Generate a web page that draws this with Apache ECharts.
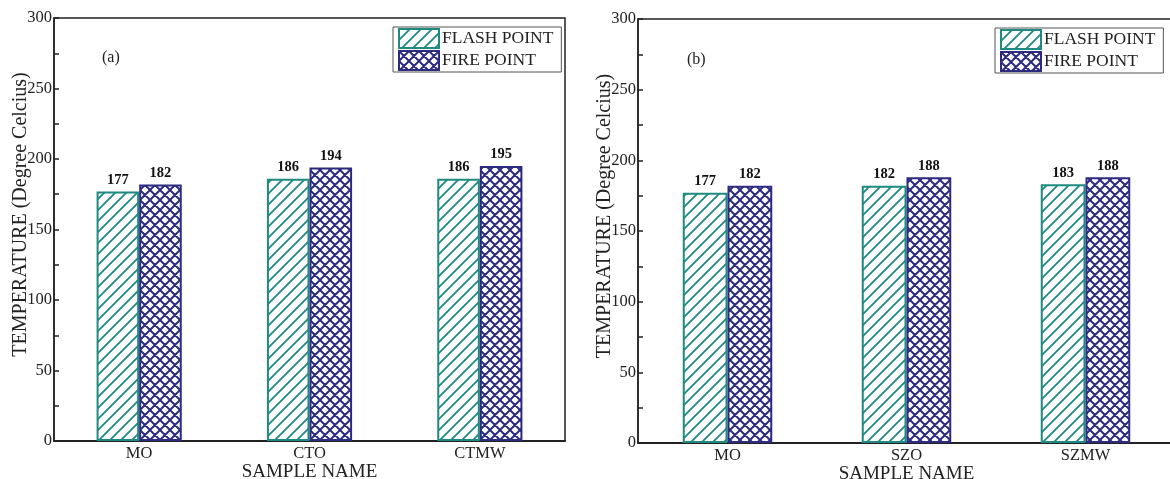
<!DOCTYPE html>
<html><head><meta charset="utf-8">
<script src="https://cdn.jsdelivr.net/npm/echarts@6/dist/echarts.min.js"></script>
<style>html,body{margin:0;padding:0;background:#fff}#c{width:1170px;height:479px}</style>
</head><body><div id="c"></div>
<script>
const categoriesA = ['MO', 'CTO', 'CTMW'];
const categoriesB = ['MO', 'SZO', 'SZMW'];
const flashA = [177, 186, 186];
const fireA = [182, 194, 195];
const flashB = [177, 182, 183];
const fireB = [182, 188, 188];
const seriesNames = ['FLASH POINT', 'FIRE POINT'];
const yTicks = { min: 0, max: 300, interval: 50 };

const TEAL = '#1e8a80', NAVY = '#2c2b80';
const FONT = '"Liberation Serif", "Times New Roman", serif';

function hatch(color) {
  const s = 11, c = document.createElement('canvas');
  c.width = s; c.height = s;
  const g = c.getContext('2d');
  g.fillStyle = '#fff'; g.fillRect(0, 0, s, s);
  g.strokeStyle = color; g.lineWidth = 1.8;
  g.beginPath();
  for (let k = -1; k <= 1; k++) {
    g.moveTo(k * s - 1, s + 1); g.lineTo(k * s + s + 1, -1);
  }
  g.stroke();
  return { image: c, repeat: 'repeat' };
}
function cross(color) {
  const s = 10, c = document.createElement('canvas');
  c.width = s; c.height = s;
  const g = c.getContext('2d');
  g.fillStyle = '#fff'; g.fillRect(0, 0, s, s);
  g.strokeStyle = color; g.lineWidth = 2;
  g.beginPath();
  for (let k = -1; k <= 1; k++) {
    g.moveTo(k * s - 1, s + 1); g.lineTo(k * s + s + 1, -1);
    g.moveTo(k * s - 1, -1); g.lineTo(k * s + s + 1, s + 1);
  }
  g.stroke();
  return { image: c, repeat: 'repeat' };
}
const flashFill = hatch(TEAL), fireFill = cross(NAVY);

const chart = echarts.init(document.getElementById('c'), null, { renderer: 'canvas' });

function xAxis(idx, cats) {
  return {
    type: 'category', gridIndex: idx, data: cats,
    name: 'SAMPLE NAME', nameLocation: 'middle', nameGap: 22, nameMoveOverlap: false,
    nameTextStyle: { fontFamily: FONT, fontSize: 19, color: '#222' },
    axisLine: { lineStyle: { color: '#222', width: 2 } },
    axisTick: { show: false },
    axisLabel: { fontFamily: FONT, fontSize: 16.5, color: '#222', margin: 4 },
    splitLine: { show: false }
  };
}
function yAxis(idx) {
  return {
    type: 'value', gridIndex: idx, min: yTicks.min, max: yTicks.max, interval: yTicks.interval,
    name: 'TEMPERATURE (Degree Celcius)', nameLocation: 'middle', nameGap: 23, nameMoveOverlap: false,
    nameTextStyle: { fontFamily: FONT, fontSize: 20, color: '#222', padding: [0, 0, 0, 30] },
    axisLine: { show: true, lineStyle: { color: '#222', width: 1.5 } },
    axisTick: { show: true, inside: true, length: 5, lineStyle: { color: '#222', width: 1.5 } },
    minorTick: { show: true, splitNumber: 2, length: 5, lineStyle: { color: '#222', width: 1.5 } },
    axisLabel: { fontFamily: FONT, fontSize: 16.5, color: '#222', margin: 2 },
    splitLine: { show: false }
  };
}
function bar(name, idx, data, fill, border) {
  return {
    name: name, type: 'bar', xAxisIndex: idx, yAxisIndex: idx, data: data,
    barWidth: '25%', barGap: '0%',
    itemStyle: { color: fill, borderColor: border, borderWidth: 2 },
    label: { show: true, position: 'top', distance: 4, fontFamily: FONT, fontWeight: 'bold', fontSize: 14.5, color: '#111' },
    animation: false
  };
}
function legend(left, top) {
  return {
    data: seriesNames, orient: 'vertical', left: left, top: top, icon: 'rect',
    itemWidth: 40, itemHeight: 19, itemGap: 1, padding: [1, 8, 1, 5],
    borderColor: '#555', borderWidth: 1, backgroundColor: '#fff',
    textStyle: { fontFamily: FONT, fontSize: 17.5, color: '#222', padding: [0, 0, 0, -2] },
    selectedMode: false
  };
}

chart.setOption({
  animation: false,
  backgroundColor: '#fff',
  grid: [
    { left: 54, top: 18, width: 511, height: 423, outerBoundsMode: 'none', containLabel: false, show: true, borderColor: '#222', borderWidth: 1.5, backgroundColor: 'transparent' },
    { left: 638, top: 19, width: 537, height: 424, outerBoundsMode: 'none', containLabel: false, show: true, borderColor: '#222', borderWidth: 1.5, backgroundColor: 'transparent' }
  ],
  xAxis: [xAxis(0, categoriesA), xAxis(1, categoriesB)],
  yAxis: [yAxis(0), yAxis(1)],
  legend: [legend(393, 27), legend(995, 28)],
  graphic: [
    { type: 'text', left: 102, top: 50, style: { text: '(a)', font: '16px ' + FONT, fill: '#222' } },
    { type: 'text', left: 687, top: 52, style: { text: '(b)', font: '16px ' + FONT, fill: '#222' } }
  ],
  series: [
    bar(seriesNames[0], 0, flashA, flashFill, TEAL),
    bar(seriesNames[1], 0, fireA, fireFill, NAVY),
    bar(seriesNames[0], 1, flashB, flashFill, TEAL),
    bar(seriesNames[1], 1, fireB, fireFill, NAVY)
  ]
});
</script></body></html>
